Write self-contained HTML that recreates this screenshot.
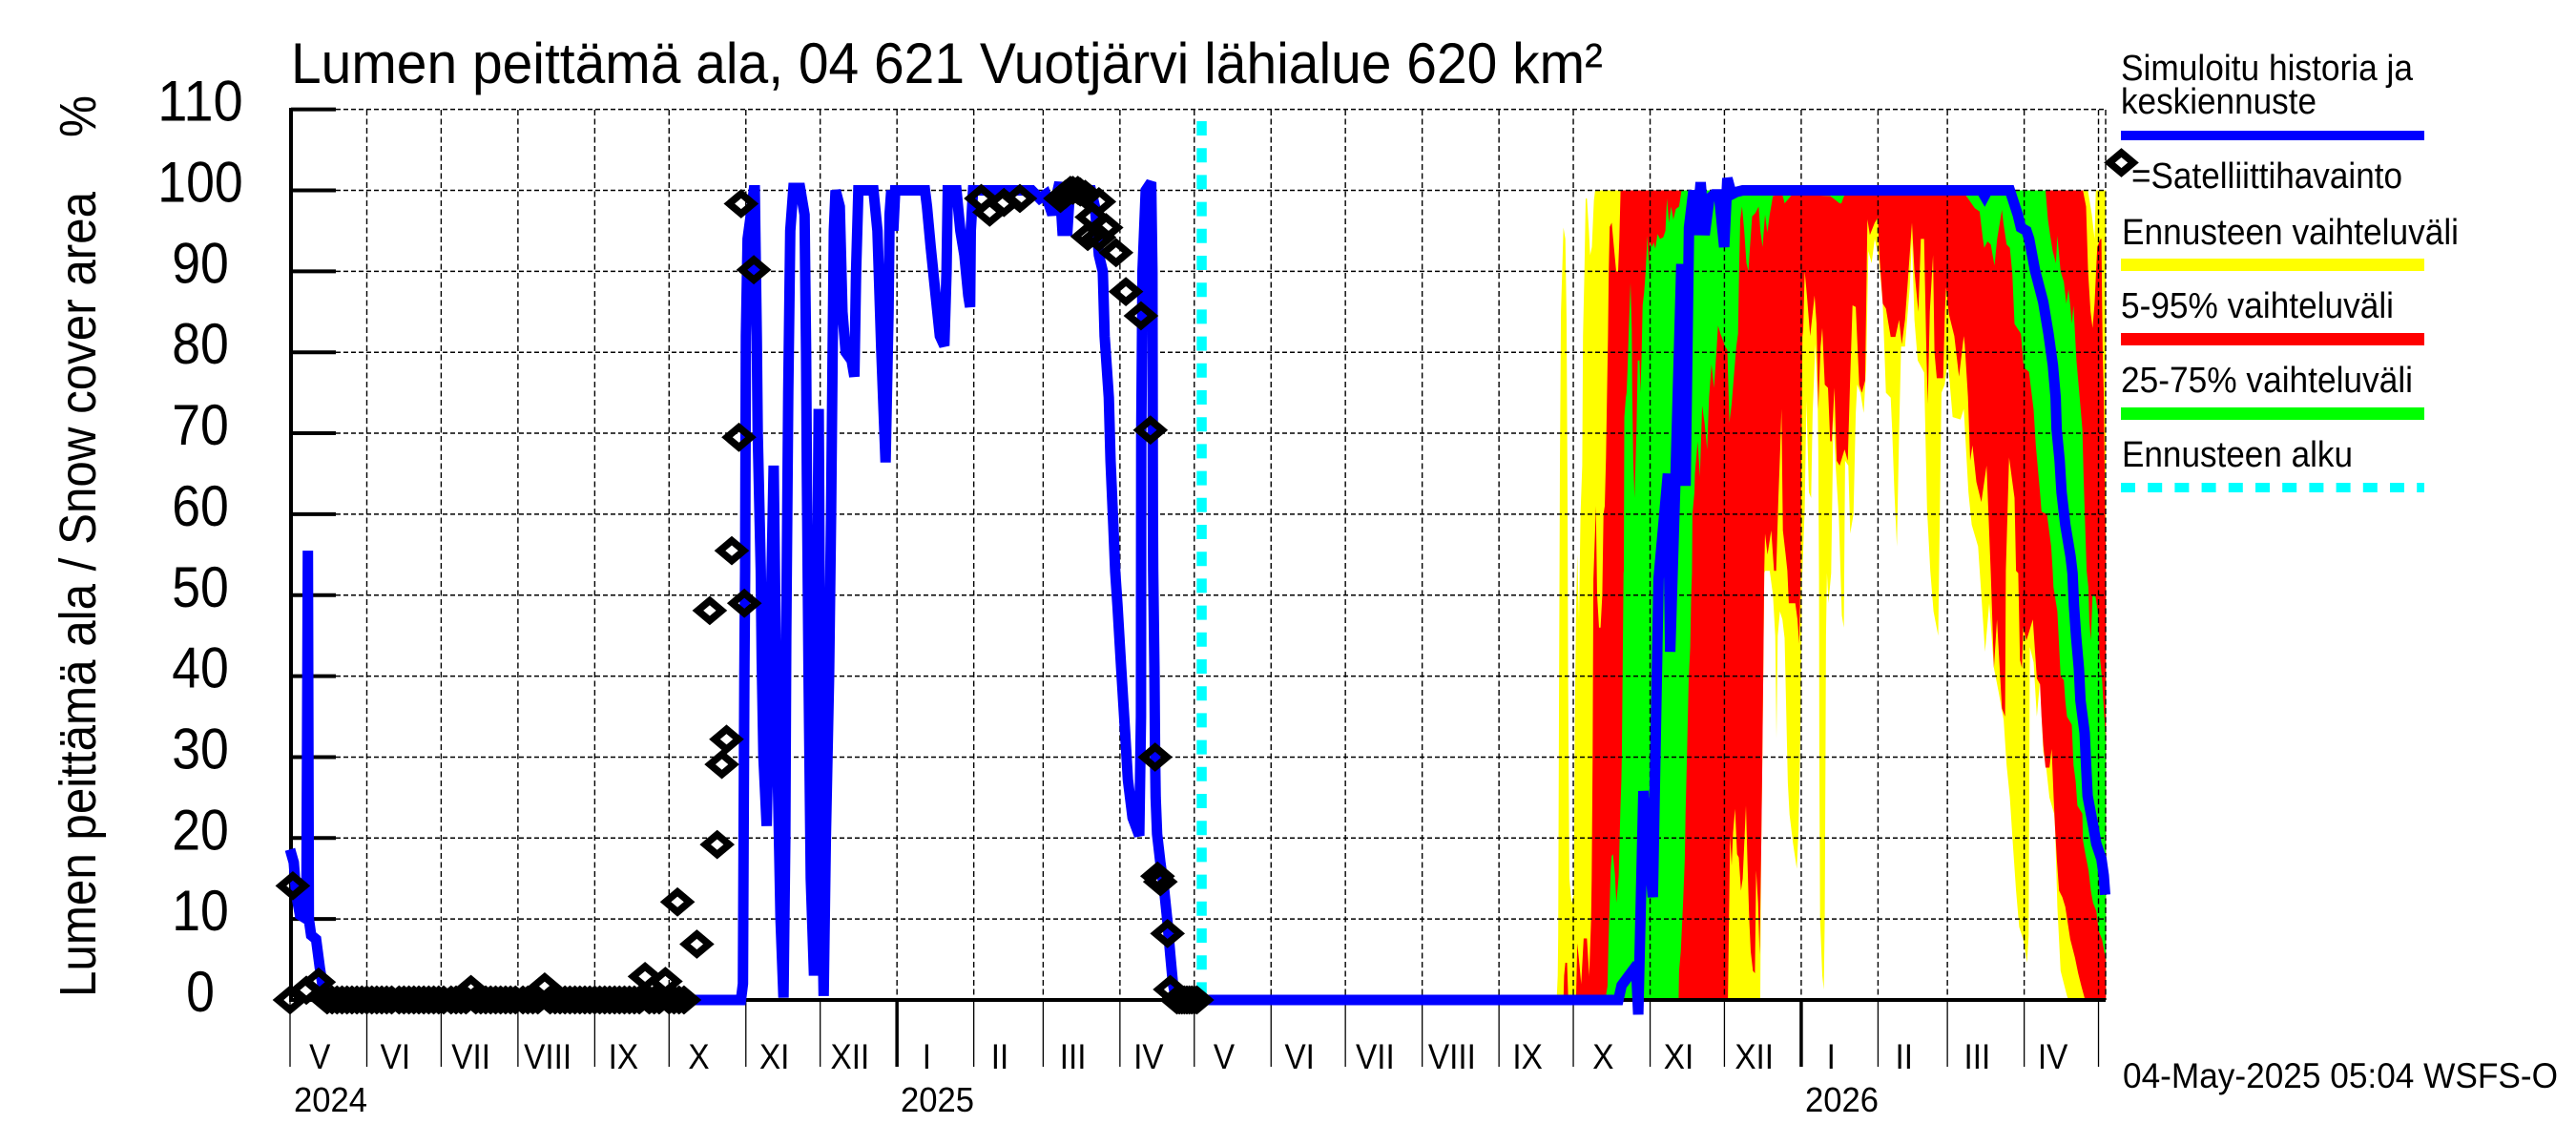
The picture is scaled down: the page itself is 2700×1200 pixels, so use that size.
<!DOCTYPE html>
<html lang="fi">
<head>
<meta charset="utf-8">
<title>Lumen peittämä ala, 04 621 Vuotjärvi lähialue 620 km²</title>
<style>
html,body{margin:0;padding:0;background:#fff;width:2700px;height:1200px;overflow:hidden}
svg{display:block}
text{font-family:"Liberation Sans",sans-serif;fill:#000}
</style>
</head>
<body>
<svg id="chart" xmlns="http://www.w3.org/2000/svg" width="2700" height="1200" viewBox="0 0 2700 1200">
  <rect x="0" y="0" width="2700" height="1200" fill="#fff"/>
  <g id="bands"></g>
  <g id="grid"></g>
  <g id="axes"></g>
  <g id="series"></g>
  <g id="markers"></g>

  <text x="305" y="87" font-size="60" textLength="1375" lengthAdjust="spacingAndGlyphs">Lumen peittämä ala, 04 621 Vuotjärvi lähialue 620 km²</text>
  <text transform="translate(100,1045) rotate(-90)" font-size="54" textLength="844" lengthAdjust="spacingAndGlyphs">Lumen peittämä ala / Snow cover area</text>
  <text transform="translate(100,144) rotate(-90)" font-size="54" textLength="44" lengthAdjust="spacingAndGlyphs">%</text>
  <text x="308" y="1165" font-size="36" textLength="77" lengthAdjust="spacingAndGlyphs">2024</text>
  <text x="944" y="1165" font-size="36" textLength="77" lengthAdjust="spacingAndGlyphs">2025</text>
  <text x="1892" y="1165" font-size="36" textLength="77" lengthAdjust="spacingAndGlyphs">2026</text>
  <text x="2225" y="1140" font-size="37" textLength="456" lengthAdjust="spacingAndGlyphs">04-May-2025 05:04 WSFS-O</text>

  <g>
    <text x="2223" y="84" font-size="38" textLength="306" lengthAdjust="spacingAndGlyphs">Simuloitu historia ja</text>
    <text x="2223" y="119" font-size="38" textLength="205" lengthAdjust="spacingAndGlyphs">keskiennuste</text>
    <rect x="2223" y="137" width="318" height="10" fill="#0000ff"/>
    <polygon points="2223.5,160 2236,170.5 2223.5,181 2211,170.5" fill="none" stroke="#000" stroke-width="7.5"/>
    <text x="2234" y="197" font-size="38" textLength="284" lengthAdjust="spacingAndGlyphs">=Satelliittihavainto</text>
    <text x="2224" y="256" font-size="38" textLength="353" lengthAdjust="spacingAndGlyphs">Ennusteen vaihteluväli</text>
    <rect x="2223" y="271" width="318" height="13" fill="#ffff00"/>
    <text x="2223" y="333" font-size="38" textLength="286" lengthAdjust="spacingAndGlyphs">5-95% vaihteluväli</text>
    <rect x="2223" y="349" width="318" height="13" fill="#ff0000"/>
    <text x="2223" y="411" font-size="38" textLength="306" lengthAdjust="spacingAndGlyphs">25-75% vaihteluväli</text>
    <rect x="2223" y="427" width="318" height="13" fill="#00ff00"/>
    <text x="2224" y="489" font-size="38" textLength="242" lengthAdjust="spacingAndGlyphs">Ennusteen alku</text>
    <line x1="2223" y1="511" x2="2541" y2="511" stroke="#00ffff" stroke-width="10" stroke-dasharray="15 13.2"/>
  </g>
</svg>

<script>
/* Axis tick data */
const yTickValues = [0,10,20,30,40,50,60,70,80,90,100,110];
const yTickLabels = ["0","10","20","30","40","50","60","70","80","90","100","110"];
const monthStartDays = [0,31,61,92,123,153,184,214,245,276,304,335,365,396,426,457,488,518,549,579,610,641,669,700,730];
const monthLabels = ["V","VI","VII","VIII","IX","X","XI","XII","I","II","III","IV","V","VI","VII","VIII","IX","X","XI","XII","I","II","III","IV"];
const yearStartDays = [245,610];
const forecastStartDay = 368;

/* Simulated history: days since 1 May 2024 and snow cover % */
const historyDays = [0,1.5,2.5,4,6.6,7.2,7.6,8.5,10.5,12,13.5,15,182,182.8,183.4,183.7,184,184.7,186,187.2,187.6,188.4,188.8,190,190.4,191.1,192.4,195.2,196.4,198,199.2,199.9,200.3,201.1,201.9,203.2,205.9,207.7,208.3,208.6,209.3,210.2,211.5,212.3,213.4,214.1,214.7,215.4,216.3,217.6,218.4,219,219.5,220.2,221.9,223,224.3,226.7,227.8,228.5,229.4,235.5,237.1,238.7,240.4,241.6,242,242.7,243.5,244.3,256.3,257.1,258.6,260.6,262.3,264.1,265,265.5,269,270.6,272.2,273.8,274.5,274.8,275.7,299.4,302.6,305,307.7,310.6,311.8,313.8,314.6,317,323.3,324.9,326.5,328.1,328.8,330.5,331.2,332.3,333.1,334,335.5,337.1,338.2,340.1,342.8,343.5,343.6,344.1,345.4,347.6,348.1,348.3,348.4,348.9,349.2,349.4,350,351.3,352.9,354.2,355.3,356.4,357.7];
const historyValues = [18.6,17,13,10.5,10,55.5,10,8,7.5,4,1,0,0,2,40,53,82,94,97,100,100,82,70,53,42,30,21.5,66,35,10,0.3,20,45,75,95,100.3,100.3,97,80,65,40,15,3,30,73,35,15,0.5,20,40,60,80,95,100,98,85,80,79,77,90,100,100,95,80,66.4,85,97,100,95,100,100,98,93,87,82,80.8,90,100,100,95,92,87,85.6,95,100,100,99,99.5,97,101,95,95,99,100,100,98,92,90,82,74.4,66.6,58.7,52.9,48.7,40.9,33,27.2,22.5,20.3,35,70,90,100,101,90,60,53,41,30,25,20.5,17,13.5,9.6,5.6,2,0];

/* Forecast median */
const medianDays = [368,536.2,537.5,542.1,543.5,544.2,546.3,550.1,552.4,556.2,557.1,559.4,561.6,563.3,564.7,566.5,567.8,569.4,571,572.9,574.8,576.8,578.9,580.2,581.9,583.8,586.4,682.7,684,685.2,694.2,697.4,698.7,700.9,702,704.4,707.7,709.8,711.6,712.7,713.1,714.3,715.1,716.6,718.7,719.5,720.1,721,722.1,722.7,724.4,725,725.6,728,729.1,731.2,732.1,732.7];
const medianValues = [0,0,1.8,3.7,3,-1.8,25.8,12.7,52,65,43,66,90.9,63.5,95.4,100,94.5,101,94.5,99,99.5,99.5,93,101.5,99.5,99.8,100,100,99.3,100,100,97,95.4,95,94,90.1,86.2,82.3,78.4,74.4,70.5,66.6,62.7,58.7,54.8,52.7,48.7,44.8,40.9,37,33,29.1,25.2,21.3,19.3,17.4,15.4,13];

/* Full forecast range (yellow) */
const rangeHighDays = [511,511.3,511.7,511.9,512.2,512.6,513,513.5,514,514.8,515.3,515.7,515.9,516.4,517.3,518.2,518.6,519.1,519.6,520.3,520.9,521.6,521.9,522.5,523,523.5,524.3,524.8,525.5,526.3,526.8,725.7,727.3,728.4,728.9,733];
const rangeHighValues = [0,0,3,8,35,66,85,90,95.4,94,84,60,40,15,12,13,34,48,55,47,60,66,82,90,99,99,95,92,93,98.7,100,100,97,94,100,100];
const rangeLowDays = [511,593.45,593.8,594.2,594.7,595.1,595.4,597.3,598.6,599.5,600,600.5,601.4,602.4,603.3,604.6,605.3,606.7,608.2,608.9,609.5,610,610.3,610.5,611.4,612.1,613.1,614,614.6,615.7,616.6,616.9,617.2,617.3,617.6,618.5,619.1,619.5,619.8,620,620.4,621,622.1,623,623.9,625.2,626.4,627.2,627.7,629,629.8,631.1,632,632.6,633.9,635.2,636.2,637.1,638.4,639.7,641.3,642.9,644.2,646.1,646.7,647.6,648.6,649.5,650.3,651.9,653.8,654.7,655.7,657,659.6,660.8,662.1,663.4,665.3,666.6,667.9,669.2,671.1,674.3,675.6,677.5,678.8,681.4,682.7,684.2,685.9,687.8,689.7,691.7,692.9,694.2,695.5,696.7,698,699.6,701.2,701.8,702.3,703.8,705.1,706.4,707.7,708.9,710.2,712.1,712.5,713.4,714.7,717.3,717.9,733];
const rangeLowValues = [0,0,18,27,41,52.7,53,53,50,45,32.3,45,48,47,44.7,26.8,22.9,19.3,16.2,21,30,40,52,53,60.7,74,62.7,62,72.5,81,74.4,68,52,30,10,3,1.3,10,30,45,52.7,49,52.7,72,66,59.5,47.5,46,66.6,66,57.6,60,72.5,76,75,72.5,78,92.5,91,94,91.7,86,75,74.4,70.5,62.7,56,70,80.7,80.7,88,94,84,79,77.5,60.7,53,48,45,75,76,79,72,71.7,73,62.7,58.7,56,50,43,49,41,38,34.6,29,25,19,13.5,9,7.5,4.6,8,43.6,41.7,35,39.4,30.7,28.7,25,23,21,11.5,3.6,0.5,0,0];

/* 5-95 % range (red) */
const p5to95HighDays = [514,514.3,514.8,515.5,516,519.1,519.6,520.3,521.2,522.2,523.5,524.4,525.2,525.4,525.8,526.1,526.8,527.1,527.6,528.4,529,529.7,530.2,530.7,531.2,531.6,532,532.3,532.7,533.5,534.4,535.3,536.1,536.6,537.1,723.7,725,725.8,726.8,727.6,728.4,729.5,730.8,731.2,731.5,731.7,732.1,732.7,733];
const p5to95HighValues = [0,3,4.6,4.6,0,0,7,5,2,7.6,7.6,3,10,15,30,52,58,61,50,46,46,50,60,61,67,75,82,90,95.5,96,93,90,90,94,100,100,98,90,85,83,86,93,94,94,85,80,75,60,55];
const p5to95LowDays = [514,580.4,581.3,581.9,582.5,583.3,584.1,584.8,585.7,586.4,587.7,588.3,589,589.6,590.5,591.3,591.8,592.6,593.2,593.8,594.2,594.7,595.1,595.4,596.4,597.9,599,599.9,600.8,601.5,602,602.6,603.7,604.4,605,607.6,608.5,609.2,609.8,610,610.5,610.8,611.4,612.3,613.6,615.4,616.2,616.9,617.8,618.5,619.5,620.8,621.7,622.3,623.4,624.3,625.5,627.5,628.8,629.8,630.7,632,632.6,633.4,634.5,635.8,636.7,637.7,639.7,640.9,641.6,642.9,644.2,646.1,648,649.5,650.6,651.9,653.1,654.7,655.7,657.3,658.3,659.6,660.5,661.1,661.9,663.2,663.8,664.7,667.3,668,668.5,669.6,671.8,673.7,675.6,676,677.3,678.2,679.1,680.7,682.7,684.8,685.6,686.5,687.8,689,691,692.3,692.6,693.9,696.1,696.7,697.6,698.3,699.1,699.6,700.9,702.5,703.5,704.4,705.1,706.4,707,707.7,708.6,710.2,711.1,711.9,712.5,713.2,714.1,715.4,716.6,718.6,720.5,721.8,723.1,724.6,733];
const p5to95LowValues = [0,0,20.3,16.6,20.7,23.6,18,17.6,13.5,15,24,17,10,6,3.6,3.3,16,12,5.6,18,27,41,53,57.6,55,58,53,53,62,68,73,58,55,53,49,49,47,44,53,64.6,82,82.7,90,87,82,87,83.5,73,80.7,83,76,75.6,69,69,75.6,66.6,66,68,66.6,77,85.8,85.6,81.6,76,75,76.5,96.4,94.5,96,96.6,91.7,86,85.4,81.9,81.9,84,81,84,89,96,90,85,94,94,80,73.6,85,92,80,76.8,76.8,85,88,84.7,82,77,82,81,74.5,66.6,68.5,64,61.5,66,60,52.7,41,47,36,35,53,67,62,53,52.7,42,41,46,44.4,46,47,43,39.7,39,35,31.5,28.7,28.7,31,25,21,17.3,13.5,12.7,11.5,7.5,5.2,3.3,1.7,0,0];

/* 25-75 % range (green) */
const p25to75HighDays = [530.9,531.8,532.2,532.7,533.1,533.5,534,534.8,535.4,536.3,537,537.4,537.6,537.9,538.3,538.4,538.6,539.2,539.5,539.9,540.4,541.1,541.6,541.8,542.2,542.7,543.1,543.5,544,544.7,545.1,545.6,546,546.6,547.2,547.9,548.5,548.9,549.8,550.4,551.1,552,553,554.3,555.2,555.8,556.6,557.5,558.4,559.4,560.7,561.7,708.3,708.6,709.6,710.5,711.5,712.8,713.4,714.7,716,717,717.9,718.6,719.2,719.9,720.5,721.1,722.4,723.5,724,724.6,725.2,725.9,726.3,726.9,727.6,728.8,729.9,730.4,731.4,731.9,733];
const p25to75HighValues = [0,1.7,7,12,16,17.8,18,15.5,12,15.3,23.6,27,30,40,52.7,53,72,74.4,75,78,82.7,88.6,82.7,75,66.6,62,66,70.5,79,79,75,80,85.8,87.4,90,94.4,90.5,93.6,93,93.6,92.8,94.6,94,94.2,95,99,96,98,96.4,97.7,98,100,100,100,96.4,94.4,92.5,91,94.4,90,88.7,86,87.8,85.8,83.5,85.8,82.3,79,74.4,70.5,64.6,58.7,53,51,46.8,44.4,50,49.8,47.6,42.8,39.7,37,31.9];
const p25to75LowDays = [530.9,560.5,560.7,561.4,562.3,563,563.3,563.9,564.6,565.2,565.6,565.9,566.1,566.9,567.1,568.2,569.1,570,571,572,572.8,573.8,574.8,575.9,576.4,577.4,578.4,579.3,580.2,581,581.9,582.8,583.8,584.5,584.9,585.4,586.1,587,587.9,588.7,589.3,590.2,591.5,592.8,593.5,594.4,595.4,596.3,597.3,598.6,602.4,603.3,605,606.3,621.7,625.5,626.2,627.5,676.2,680.1,682,683.3,683.9,685.2,686.5,688,689.1,691,691.6,692.9,694.2,695.2,696.1,698.7,699.6,700.3,701.9,703.8,704.7,706.4,707,709.2,710.9,711.5,711.8,713.4,714.7,716,716.6,717.3,719.2,719.9,720.8,721.5,723.5,723.7,724.7,726,726.9,727.8,729.1,730.1,731.4,733];
const p25to75LowValues = [0,0,3.6,6,12,17.4,23,30.3,39.7,43.6,50,52.7,60,62.7,65,69,64.6,73.4,71.2,68,74.4,78.5,75.6,80.7,83.3,82.3,81.5,80.7,80.3,71.3,73.6,77,80.7,82.3,90,96.4,98,95,91,90,93,96.8,97.2,98,95,93,97,94.8,97,99.3,99.5,98.4,99,99.5,99.3,98.4,98.4,99.5,99.5,97.8,97.4,94,92.9,93.7,93.3,90.7,94,97.6,96,93.3,92.9,89.7,83.5,82.3,78.7,78,77.6,72.9,68.5,62.7,60.3,60,56,53,51,48,40,39.5,37,35,34,29,27,24,23,19.7,18,16,13.5,12,11,8.5,7.5,4.8];

/* Satellite observations */
const satelliteDays = [0,1.1,6.6,11.5,73,102.8,143.3,151.5,156.4,164.2,169.4,172.4,174.3,176.2,178.3,181.2,182.1,183.4,187.2,279,282.4,288.2,294.6,311,313,315,316,318,319,321,322,323.7,326.5,326.5,329.4,333.4,337.4,343.5,347.3,349.2,350.2,351.3,354.2,355.3];
const satelliteValues = [0,14.1,1.2,2.2,1.3,1.6,2.9,2.3,12.1,6.9,48.1,19.2,29.1,32.2,55.5,69.5,98.35,49,90.2,99,97.3,98.5,99,99,99.5,100,100,100,99.8,99.5,94.3,96.7,98.6,94.2,95.4,92.3,87.5,84.5,70.4,30,15.3,14.6,8.2,1.3];
const snowFreeDays = [
15,17,19,21,23,25,27,29,31,33,
35,37,39,41,44,46,48,50,52,54,
56,58,60,62,65,67,69,71,75,77,
79,81,83,85,87,89,91,94,96,98,
100,105,107,109,111,113,115,117,119,121,
123,125,127,129,131,133,135,137,139,141,
145,147,149,153,155,157,159,358,359,360,
361,362,363,364,365,366];
const snowFreeValues = [
0,0,0,0,0,0,0,0,0,0,
0,0,0,0,0,0,0,0,0,0,
0,0,0,0,0,0,0,0,0,0,
0,0,0,0,0,0,0,0,0,0,
0,0,0,0,0,0,0,0,0,0,
0,0,0,0,0,0,0,0,0,0,
0,0,0,0,0,0,0,0,0,0,
0,0,0,0,0,0];

const NS = "http://www.w3.org/2000/svg";
const X0 = 304, PX_PER_DAY = 2.5966, Y0 = 1048, PX_PER_UNIT = 8.485;
const PLOT_RIGHT = 2207, PLOT_TOP = 115;
function xScale(day){ return X0 + PX_PER_DAY * day; }
function yScale(value){ return Y0 - PX_PER_UNIT * value; }

function make(tag, attrs, parent){
  const el = document.createElementNS(NS, tag);
  for (const k in attrs) el.setAttribute(k, attrs[k]);
  parent.appendChild(el);
  return el;
}

const bandsG = document.getElementById("bands");
const gridG = document.getElementById("grid");
const axesG = document.getElementById("axes");
const seriesG = document.getElementById("series");
const markersG = document.getElementById("markers");

function edgePoints(days, values){
  return days.map(function(d, i){ return xScale(d).toFixed(1) + "," + yScale(values[i]).toFixed(1); });
}
function drawBand(highDays, highValues, lowDays, lowValues, color, name){
  const pts = edgePoints(highDays, highValues).concat(edgePoints(lowDays, lowValues).reverse());
  const el = make("polygon", {points: pts.join(" "), fill: color, stroke: "none"}, bandsG);
  
  
}
drawBand(rangeHighDays, rangeHighValues, rangeLowDays, rangeLowValues, "#ffff00", "forecast-range-band");
drawBand(p5to95HighDays, p5to95HighValues, p5to95LowDays, p5to95LowValues, "#ff0000", "forecast-5-95-band");
drawBand(p25to75HighDays, p25to75HighValues, p25to75LowDays, p25to75LowValues, "#00ff00", "forecast-25-75-band");

/* horizontal grid + y ticks */
yTickValues.forEach(function(v, i){
  const y = yScale(v);
  if (v > 0) {
    const g = make("line", {x1: 352, y1: y, x2: PLOT_RIGHT, y2: y, stroke: "#000", "stroke-width": 1.5, "stroke-dasharray": "5 3"}, gridG);
    
    
    const t = make("line", {x1: 305, y1: y, x2: 352, y2: y, stroke: "#000", "stroke-width": 4}, axesG);
    
    
  }
  const label = make("text", {x: 210, y: y + 12, "font-size": 60, "text-anchor": "middle", textLength: yTickLabels[i].length * 29.8, lengthAdjust: "spacingAndGlyphs"}, axesG);
  label.textContent = yTickLabels[i];
  
  
});

/* vertical grid + month ticks */
monthStartDays.forEach(function(d){
  const x = xScale(d);
  if (d > 0) {
    const g = make("line", {x1: x, y1: PLOT_TOP, x2: x, y2: Y0, stroke: "#000", "stroke-width": 1.4, "stroke-dasharray": "6 3.5"}, gridG);
    
    
  }
  const heavy = yearStartDays.indexOf(d) >= 0;
  const t = make("line", {x1: x, y1: Y0, x2: x, y2: 1118, stroke: "#000", "stroke-width": heavy ? 3.5 : 1.3}, axesG);
  
  
});
const rightEdge = make("line", {x1: PLOT_RIGHT, y1: PLOT_TOP, x2: PLOT_RIGHT, y2: Y0, stroke: "#000", "stroke-width": 1.4, "stroke-dasharray": "6 3.5"}, gridG);



monthLabels.forEach(function(m, i){
  const mid = (monthStartDays[i] + monthStartDays[i + 1]) / 2;
  const t = make("text", {transform: "translate(" + (xScale(mid) - 9).toFixed(1) + ",1120) scale(0.9,1)", "font-size": 37, "text-anchor": "middle"}, axesG);
  t.textContent = m;
  
  
});

const yAxis = make("line", {x1: 305, y1: 113, x2: 305, y2: 1050, stroke: "#000", "stroke-width": 4}, axesG);


const xAxis = make("line", {x1: 303, y1: Y0, x2: PLOT_RIGHT, y2: Y0, stroke: "#000", "stroke-width": 4}, axesG);



/* blue line */
const blue = edgePoints(historyDays, historyValues).concat(edgePoints(medianDays, medianValues));
const blueLine = make("polyline", {points: blue.join(" "), fill: "none", stroke: "#0000ff", "stroke-width": 11, "stroke-linejoin": "miter", "stroke-miterlimit": 3, "stroke-linecap": "butt"}, seriesG);



/* forecast start */
const startX = xScale(forecastStartDay);
const startLine = make("line", {x1: startX, y1: 127, x2: startX, y2: Y0, stroke: "#00ffff", "stroke-width": 10.5, "stroke-dasharray": "15 13.2"}, seriesG);



/* observation markers */
function drawMarker(day, value){
  const cx = xScale(day), cy = yScale(value);
  const pts = [[cx, cy - 10.5], [cx + 12.5, cy], [cx, cy + 10.5], [cx - 12.5, cy]].map(function(p){ return p[0].toFixed(1) + "," + p[1].toFixed(1); }).join(" ");
  const el = make("polygon", {points: pts, fill: "none", stroke: "#000", "stroke-width": 7.5}, markersG);
  
  
}
snowFreeDays.forEach(function(d, i){ drawMarker(d, snowFreeValues[i]); });
satelliteDays.forEach(function(d, i){ drawMarker(d, satelliteValues[i]); });
</script>
</body>
</html>
